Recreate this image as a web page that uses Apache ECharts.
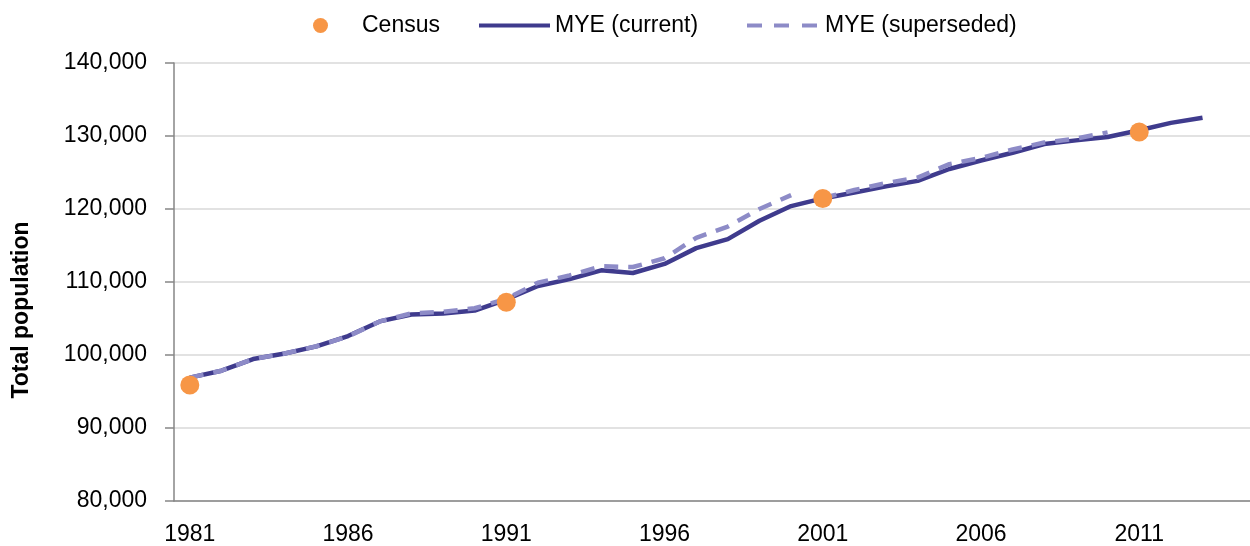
<!DOCTYPE html>
<html>
<head>
<meta charset="utf-8">
<script src="https://cdn.jsdelivr.net/npm/echarts@6/dist/echarts.min.js"></script>
<style>
  html, body { margin: 0; padding: 0; background: #fff; }
  #chart { width: 1250px; height: 546px; }
</style>
</head>
<body>
<div id="chart"></div>
<script>
// Years shown on the category axis (2014 is an empty slot at the right edge)
const years = []
for (let y = 1981; y <= 2014; y++) years.push(String(y))

// MYE (current), 1981-2013
const myeCurrent = [
  96900, 97850, 99450, 100200, 101180, 102600, 104600, 105550, 105700, 106090,
  107600, 109450, 110400, 111600, 111230, 112480, 114640, 115880, 118400, 120400,
  121450, 122250, 123100, 123850, 125480, 126650, 127700, 128900, 129400, 129870,
  130780, 131800, 132510
]

// MYE (superseded), two runs: 1981-2000 and 2001-2010
const supersededAStart = 1981
const supersededA = [
  96900, 97850, 99450, 100200, 101200, 102550, 104600, 105700, 105900, 106400,
  107700, 109900, 110900, 112150, 112050, 113250, 116050, 117600, 120000, 121900
]
const supersededBStart = 2001
const supersededB = [
  121500, 122600, 123550, 124300, 126150, 127000, 128150, 129100, 129650, 130500
]

// Census counts
const censusYears = ['1981', '1991', '2001', '2011']
const censusValues = [95900, 107230, 121450, 130550]

const yTicks = { min: 80000, max: 140000, step: 10000 }

const COLORS = { current: '#3f3b8d', superseded: '#8d8bc7', census: '#f79646' }
const FONT = 'Liberation Sans'

const toPairs = (start, values) => values.map((v, i) => [String(start + i), v])

const chart = echarts.init(document.getElementById('chart'))

const legendText = { fontFamily: FONT, fontSize: 23, color: '#000' }

chart.setOption({
  animation: false,
  grid: { left: 174, top: 63, width: 34 * 31.87, height: 439 },
  legend: [
    {
      data: [{ name: 'Census', icon: 'circle' }],
      left: 308, top: 9, itemWidth: 15, itemHeight: 15,
      textStyle: { ...legendText, padding: [0, 0, 0, 29] },
    },
    {
      // solid bar icon
      data: [{ name: 'MYE (current)', icon: 'path://M0,0H70V4H0Z' }],
      left: 474, top: 9, itemWidth: 71, itemHeight: 4.5,
      textStyle: legendText,
    },
    {
      // three dashes icon
      data: [{ name: 'MYE (superseded)', icon: 'path://M0,0H15V4H0Z M27,0H42V4H27Z M55,0H70V4H55Z' }],
      left: 742, top: 9, itemWidth: 70, itemHeight: 4.5,
      textStyle: { ...legendText, padding: [0, 0, 0, 3] },
    },
  ],
  xAxis: {
    type: 'category',
    data: years,
    boundaryGap: true,
    axisLine: { lineStyle: { color: '#868686', width: 1.5 } },
    axisTick: { interval: 0, length: 7, lineStyle: { color: '#868686', width: 1.5 } },
    axisLabel: { interval: 4, margin: 22, fontFamily: FONT, fontSize: 23, color: '#000' },
    splitLine: { show: false },
  },
  yAxis: {
    type: 'value',
    min: yTicks.min,
    max: yTicks.max,
    interval: yTicks.step,
    axisLine: { show: true, lineStyle: { color: '#868686', width: 1.5 } },
    axisTick: { show: true, length: 9, lineStyle: { color: '#868686', width: 1.5 } },
    axisLabel: {
      margin: 27, fontFamily: FONT, fontSize: 23, color: '#000',
      formatter: v => v.toLocaleString('en-US'),
    },
    splitLine: { lineStyle: { color: '#d9d9d9', width: 1.5 } },
  },
  graphic: [{
    type: 'text',
    x: 22, y: 310, rotation: Math.PI / 2,
    style: {
      text: 'Total population', fontFamily: FONT, fontSize: 23, fontWeight: 'bold',
      fill: '#000', align: 'center', verticalAlign: 'middle',
    },
  }],
  series: [
    {
      name: 'MYE (current)', type: 'line', data: myeCurrent,
      symbol: 'none', z: 2,
      lineStyle: { color: COLORS.current, width: 4.5 },
      itemStyle: { color: COLORS.current },
    },
    {
      name: 'MYE (superseded)', type: 'line', data: toPairs(supersededAStart, supersededA),
      symbol: 'none', z: 3,
      lineStyle: { color: COLORS.superseded, width: 4.5, type: [14, 10] },
      itemStyle: { color: COLORS.superseded },
    },
    {
      name: 'MYE (superseded)', type: 'line', data: toPairs(supersededBStart, supersededB),
      symbol: 'none', z: 3,
      lineStyle: { color: COLORS.superseded, width: 4.5, type: [14, 10] },
      itemStyle: { color: COLORS.superseded },
    },
    {
      name: 'Census', type: 'scatter', z: 4,
      data: censusYears.map((y, i) => [y, censusValues[i]]),
      symbolSize: 19,
      itemStyle: { color: COLORS.census, opacity: 1 },
    },
  ],
})
</script>
</body>
</html>
